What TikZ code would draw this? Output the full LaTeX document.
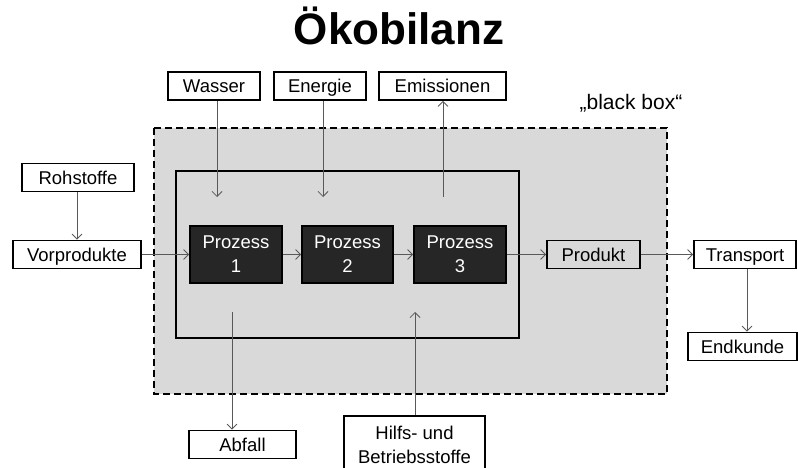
\documentclass[tikz,border=0pt]{standalone}
\usepackage{fontspec}
\setmainfont{Liberation Sans}
\usetikzlibrary{arrows.meta}
\tikzset{
	box/.style={draw,line width=1.8pt,fill=white,minimum height=28pt,inner sep=0pt,text height=15pt,text depth=2pt,font=\fontsize{18.5}{24}\selectfont},
	proc/.style={box,fill=black!85,text=white,minimum width=92pt,minimum height=57pt,align=center,text height={},text depth={}},
	flow/.style={->,draw=black!65,line width=0.8pt}
}
\begin{document}
\begin{tikzpicture}[x=1pt,y=-1pt,>={Straight Barb[length=5pt,width=10pt]}]
				\useasboundingbox (0,0) rectangle (798,468);
				\node[font=\fontsize{44}{48}\selectfont\bfseries,anchor=base] (title) at (399,45) {Ökobilanz};
				\draw[fill=black!15,line width=2.3pt,dash pattern=on 7pt off 4pt] (154,128) rectangle (667,394);
				\draw[line width=2pt] (176,171) rectangle (519,338);
				\node[font=\fontsize{21}{24}\selectfont] (bblabel) at (631,103) {„black box“};
				\node[box,minimum width=92pt] (wasser) at (214,86) {Wasser};
				\node[box,minimum width=92pt] (energie) at (320,86) {Energie};
				\node[box,minimum width=127pt] (emissionen) at (442.5,86) {Emissionen};
				\node[box,minimum width=112pt] (rohstoffe) at (78,177.5) {Rohstoffe};
				\node[box,minimum width=128pt] (vorprodukte) at (77,254.5) {Vorprodukte};
				\node[proc] (p1) at (236,254.5) {Prozess\\1};
				\node[proc,minimum width=91pt] (p2) at (347.5,254.5) {Prozess\\2};
				\node[proc] (p3) at (460,254.5) {Prozess\\3};
				\node[box,fill=black!15,minimum width=93pt] (produkt) at (593.5,254.5) {Produkt};
				\node[box,minimum width=102pt] (transport) at (745,254.5) {Transport};
				\node[box,minimum width=109pt] (endkunde) at (742.5,346.5) {Endkunde};
				\node[box,minimum width=107pt] (abfall) at (242.5,444.5) {Abfall};
				\node[box,minimum width=141pt,minimum height=58pt,align=center,text height={},text depth={}] (hilfs) at (414.5,445) {Hilfs- und\\Betriebsstoffe};
				\coordinate (win) at (217,197);
				\coordinate (ein) at (323,197);
				\coordinate (eout) at (443,197);
				\coordinate (aout) at (232,312);
				\coordinate (hin) at (415,312);
				\draw[flow] (wasser.south -| win) -- (win);
				\draw[flow] (energie.south -| ein) -- (ein);
				\draw[flow] (eout) -- (emissionen.south -| eout);
				\draw[flow] (rohstoffe.south -| vorprodukte.north) -- (vorprodukte.north);
				\draw[flow] (vorprodukte) -- (p1);
				\draw[flow] (p1) -- (p2);
				\draw[flow] (p2) -- (p3);
				\draw[flow] (p3) -- (produkt);
				\draw[flow] (produkt) -- (transport);
				\draw[flow] (transport.south -| 747,0) -- (endkunde.north -| 747,0);
				\draw[flow] (aout) -- (abfall.north -| aout);
				\draw[flow] (hilfs.north -| hin) -- (hin);
		\end{tikzpicture}
\end{document}
